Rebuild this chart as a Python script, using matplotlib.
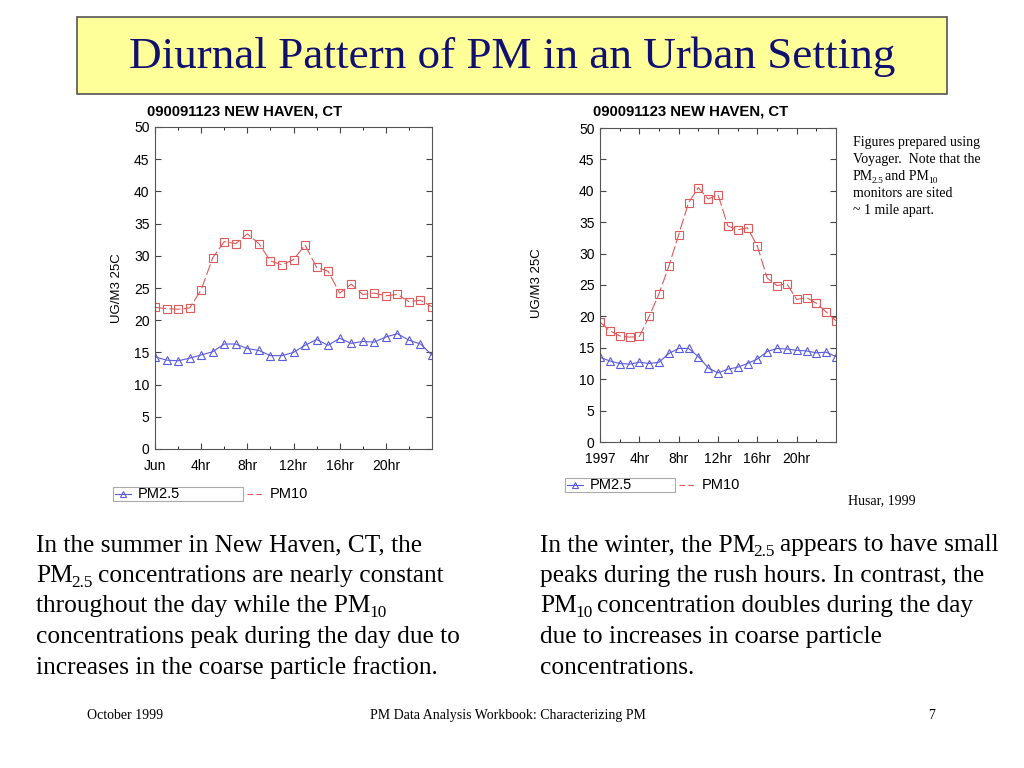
import matplotlib
matplotlib.use('Agg')
import matplotlib.pyplot as plt
from matplotlib.patches import Rectangle
from matplotlib.lines import Line2D

plt.rcParams['font.family'] = ['Liberation Serif', 'DejaVu Serif']

# hourly values, hour 0..24
hours = list(range(25))
hour_ticks = [0, 4, 8, 12, 16, 20]
summer_labels = ['Jun', '4hr', '8hr', '12hr', '16hr', '20hr']
winter_labels = ['1997', '4hr', '8hr', '12hr', '16hr', '20hr']

summer_pm10 = [22.0, 21.8, 21.7, 21.9, 24.7, 29.7, 32.2, 31.9, 33.4, 31.9, 29.2, 28.6, 29.4,
               31.7, 28.2, 27.6, 24.2, 25.6, 24.0, 24.2, 23.8, 24.0, 22.9, 23.1, 22.1]
summer_pm25 = [14.3, 13.8, 13.7, 14.1, 14.6, 15.1, 16.3, 16.3, 15.6, 15.3, 14.5, 14.5, 15.0,
               16.1, 17.0, 16.1, 17.2, 16.4, 16.7, 16.6, 17.4, 17.9, 16.9, 16.3, 14.6]
winter_pm10 = [19.1, 17.7, 16.9, 16.7, 16.8, 20.0, 23.6, 28.0, 33.0, 38.1, 40.5, 38.7, 39.4,
               34.4, 33.8, 34.1, 31.2, 26.1, 24.9, 25.2, 22.7, 23.0, 22.1, 20.7, 19.3]
winter_pm25 = [13.5, 12.9, 12.5, 12.4, 12.7, 12.5, 12.7, 14.1, 14.9, 14.9, 13.6, 11.8, 11.0,
               11.6, 11.9, 12.5, 13.2, 14.4, 14.9, 14.8, 14.6, 14.5, 14.2, 14.3, 13.6]

RED = '#e05a5a'
BLUE = '#5a5ae0'
W, H = 1024, 768

fig = plt.figure(figsize=(10.24, 7.68), dpi=100)
fig.patch.set_facecolor('white')
renderer = fig.canvas.get_renderer()


def fx(px):
    return px / W


def fy(py):
    return 1 - py / H


def rich(x, y, line, size):
    # line like 'the PM_{2.5} appears' -> draw pieces with real lowered subscripts
    parts = []
    rest = line
    while '_{' in rest:
        a, b = rest.split('_{', 1)
        sub, rest = b.split('}', 1)
        parts.append((a, False))
        parts.append((sub, True))
    parts.append((rest, False))
    for txt, is_sub in parts:
        s = size * 0.68 if is_sub else size
        dy = size * 0.2 * 100 / 72 if is_sub else 0
        space = s * 100 / 72 * 0.25
        x += (len(txt) - len(txt.lstrip(' '))) * space
        core = txt.strip(' ')
        if core:
            t = fig.text(fx(x), fy(y + dy), core, fontsize=s, va='baseline')
            x += t.get_window_extent(renderer).width - 1.5
        if txt.strip(' '):
            x += (len(txt) - len(txt.rstrip(' '))) * space


# title box
fig.patches.append(Rectangle((fx(77), fy(94)), fx(947) - fx(77), fy(17) - fy(94),
                             transform=fig.transFigure, facecolor='#ffff99',
                             edgecolor='#555555', lw=1.2))
fig.text(fx(512), fy(57), 'Diurnal Pattern of PM in an Urban Setting', ha='center', va='center',
         fontsize=32.5, color='#101070')


def draw_chart(rect, pm25, pm10, labels, title_x, ylab_xy, leg):
    ax = fig.add_axes(rect)
    ax.plot(hours, pm25, color=BLUE, lw=0.8, marker='^', ms=5.5, mfc='none', mec=BLUE, mew=0.8)
    ax.plot(hours, pm10, color=RED, lw=0.8, ls=(0, (10, 3)), marker='s', ms=5.5, mfc='none',
            mec=RED, mew=0.8)
    ax.set_xlim(0, 24)
    ax.set_ylim(0, 50)
    ax.set_yticks(range(0, 51, 5))
    ax.set_xticks(hour_ticks)
    ax.set_xticklabels(labels)
    ax.set_xticks(range(0, 25, 2), minor=True)
    ax.tick_params(direction='in', length=4, top=True, right=True, labelsize=10,
                   labelfontfamily='Liberation Sans', color='#444444')
    ax.tick_params(axis='x', pad=7)
    ax.tick_params(axis='y', pad=4)
    ax.tick_params(which='minor', direction='in', length=2, top=True, bottom=True)
    for s in ax.spines.values():
        s.set_color('#555555')
        s.set_linewidth(0.8)
    fig.text(fx(title_x), fy(116), '090091123 NEW HAVEN, CT', fontsize=10.7,
             fontweight='bold', family='Liberation Sans', va='baseline')
    fig.text(fx(ylab_xy[0]), fy(ylab_xy[1]), 'UG/M3 25C', rotation=90, fontsize=9.5,
             family='Liberation Sans', ha='center', va='center')
    # legend strip
    bx0, bx1, by = leg
    fig.patches.append(Rectangle((fx(bx0), fy(by + 7)), fx(bx1) - fx(bx0), fy(by - 7) - fy(by + 7),
                                 transform=fig.transFigure, facecolor='white',
                                 edgecolor='#aaaaaa', lw=0.8))
    fig.lines.append(Line2D([fx(bx0 + 2), fx(bx0 + 18)], [fy(by), fy(by)], transform=fig.transFigure,
                            color=BLUE, lw=0.8))
    fig.lines.append(Line2D([fx(bx0 + 10)], [fy(by)], transform=fig.transFigure, marker='^', ms=4.5,
                            mfc='none', mec=BLUE, mew=0.8))
    fig.text(fx(bx0 + 25), fy(by), 'PM2.5', fontsize=10.5, family='Liberation Sans', va='center')
    fig.lines.append(Line2D([fx(bx1 + 4), fx(bx1 + 21)], [fy(by), fy(by)], transform=fig.transFigure,
                            color=RED, lw=0.8, ls=(0, (5, 3))))
    fig.text(fx(bx1 + 27), fy(by), 'PM10', fontsize=10.5, family='Liberation Sans', va='center')
    return ax


draw_chart([fx(155), fy(449), fx(432) - fx(155), fy(127) - fy(449)], summer_pm25, summer_pm10,
           summer_labels, 147, (117, 288), (113, 243, 494))
draw_chart([fx(600), fy(442), fx(836) - fx(600), fy(128) - fy(442)], winter_pm25, winter_pm10,
           winter_labels, 593, (537, 283), (565, 675, 485))

# side note
note = ['Figures prepared using', 'Voyager.  Note that the', 'PM_{2.5} and PM_{10}',
        'monitors are sited', '~ 1 mile apart.']
for i, line in enumerate(note):
    rich(853, 146 + 17 * i, line, 10)
fig.text(fx(848), fy(504), 'Husar, 1999', fontsize=10, va='baseline')

left_text = ['In the summer in New Haven, CT, the',
             'PM_{2.5} concentrations are nearly constant',
             'throughout the day while the PM_{10}',
             'concentrations peak during the day due to',
             'increases in the coarse particle fraction.']
right_text = ['In the winter, the PM_{2.5} appears to have small',
              'peaks during the rush hours. In contrast, the',
              'PM_{10} concentration doubles during the day',
              'due to increases in coarse particle',
              'concentrations.']
for i, line in enumerate(left_text):
    rich(36, 551 + 30.7 * i, line, 18.3)
for i, line in enumerate(right_text):
    rich(540, 551 + 30.7 * i, line, 18.3)

# footer
fig.text(fx(87), fy(719), 'October 1999', fontsize=10, va='baseline')
fig.text(fx(508), fy(719), 'PM Data Analysis Workbook: Characterizing PM', fontsize=10,
         va='baseline', ha='center')
fig.text(fx(928), fy(719), '7', fontsize=10, va='baseline')

fig.savefig('out.png', dpi=100)
